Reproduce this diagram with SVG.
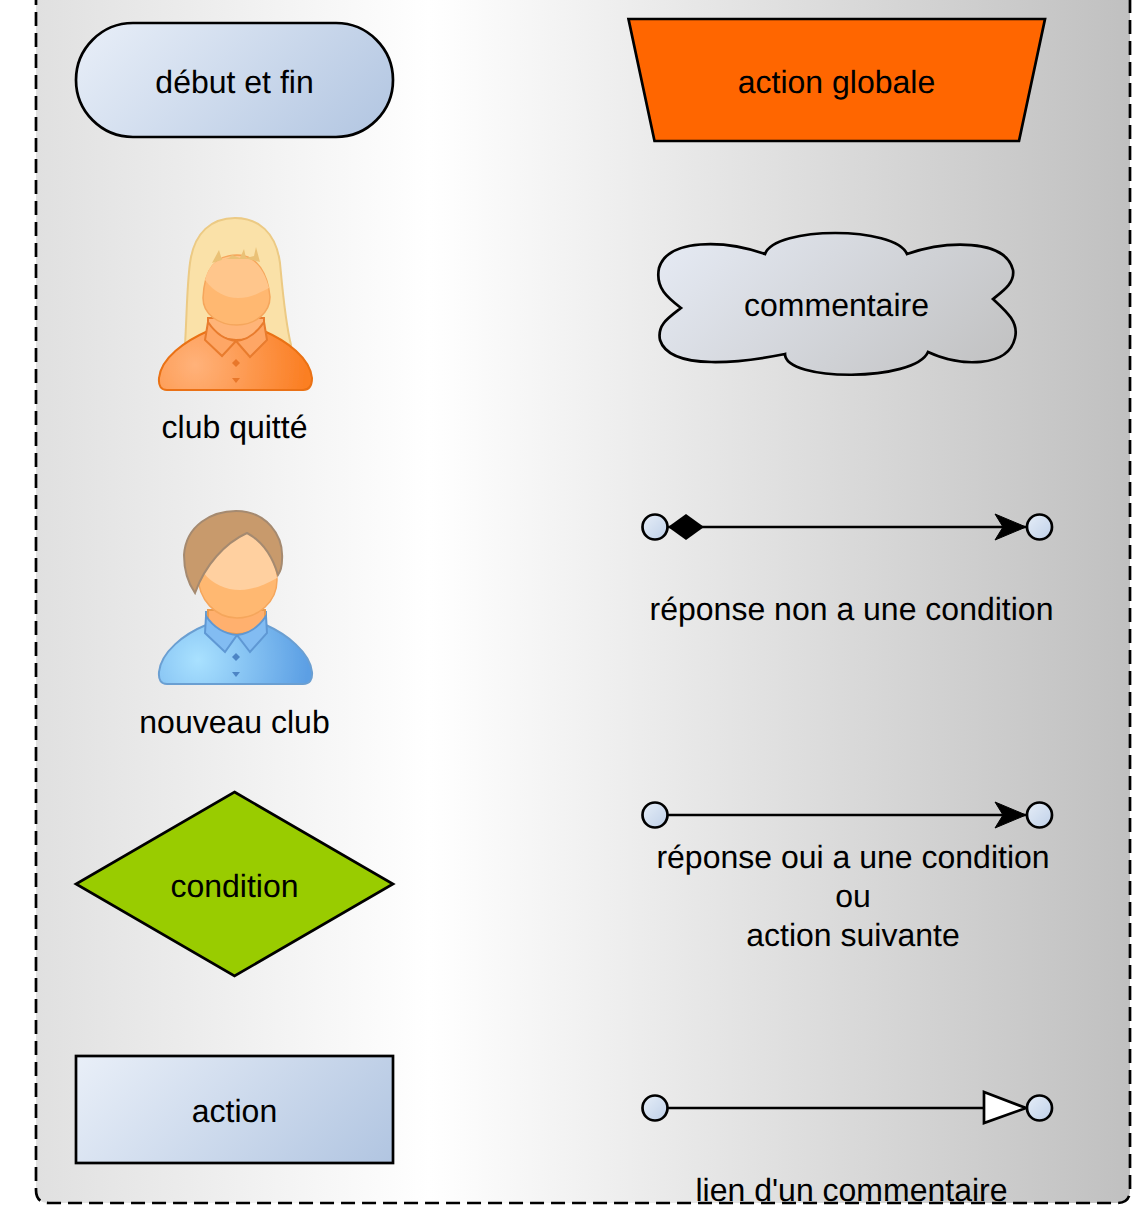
<svg xmlns="http://www.w3.org/2000/svg" width="1143" height="1210" viewBox="0 0 1143 1210">
<style>
text{font-family:"Liberation Sans",Arial,sans-serif;font-size:32px;fill:#000;text-anchor:middle;text-rendering:geometricPrecision}
.s{stroke:#000;stroke-width:2.700;stroke-linejoin:miter}
.c{fill:url(#dot);stroke:#000;stroke-width:2.700}
.l{fill:none;stroke:#000;stroke-width:2.700}
</style>
<defs>
<filter id="soft" x="-5%" y="-5%" width="110%" height="110%"><feGaussianBlur stdDeviation="0.6"/></filter>
<linearGradient id="bg" gradientUnits="userSpaceOnUse" x1="36" y1="0" x2="1130" y2="0"><stop offset="0" stop-color="#e0e0e0"/><stop offset=".36" stop-color="#fff"/><stop offset="1" stop-color="#c0c0c0"/></linearGradient>
<linearGradient id="blue1" gradientUnits="userSpaceOnUse" x1="76" y1="23" x2="291.500" y2="238.500"><stop offset="0" stop-color="#e9eff8"/><stop offset="1" stop-color="#b1c5e1"/></linearGradient>
<linearGradient id="blue2" gradientUnits="userSpaceOnUse" x1="76" y1="1056" x2="288" y2="1268"><stop offset="0" stop-color="#e9eff8"/><stop offset="1" stop-color="#b1c5e1"/></linearGradient>
<linearGradient id="dot" x1="0" y1="0" x2="1" y2="1"><stop offset="0" stop-color="#e6eef8"/><stop offset="1" stop-color="#bfd0e8"/></linearGradient>
<linearGradient id="cloud" gradientUnits="userSpaceOnUse" x1="658" y1="233" x2="907" y2="482"><stop offset="0" stop-color="#e6ebf5"/><stop offset="1" stop-color="#c0c0c0"/></linearGradient>
<radialGradient id="oshirt" gradientUnits="userSpaceOnUse" cx="195" cy="365" r="110"><stop offset="0" stop-color="#ffb27a"/><stop offset="1" stop-color="#fb7f24"/></radialGradient>
<radialGradient id="bshirt" gradientUnits="userSpaceOnUse" cx="198" cy="660" r="110"><stop offset="0" stop-color="#a9e1ff"/><stop offset="1" stop-color="#5c9fe4"/></radialGradient>
<marker id="arrow" markerUnits="userSpaceOnUse" markerWidth="34" markerHeight="30" refX="32" refY="15" orient="auto"><path d="M1 2 L32 15 L1 28 L9 15Z" fill="#000" stroke="#000" stroke-width="1"/></marker>
</defs>
<path id="panel" d="M36 -30V1190Q36 1203 49 1203H1117Q1130 1203 1130 1190V-30Z" fill="url(#bg)" stroke="#000" stroke-width="2.700" stroke-dasharray="14 7"/>
<g id="connectors">
<path class="l" d="M668 527H1026" marker-end="url(#arrow)"/>
<path d="M668 527L686 514L704 527L686 540Z" fill="#000"/>
<circle class="c" cx="655" cy="527" r="12.500"/><circle class="c" cx="1039.500" cy="527" r="12.500"/>
<path class="l" d="M668 815H1026" marker-end="url(#arrow)"/>
<circle class="c" cx="655" cy="815" r="12.500"/><circle class="c" cx="1039.500" cy="815" r="12.500"/>
<path class="l" d="M668 1108H984"/>
<path class="s" d="M984 1092L1026 1108L984 1123Z" fill="#fff"/>
<circle class="c" cx="655" cy="1108" r="12.500"/><circle class="c" cx="1039.500" cy="1108" r="12.500"/>
</g>
<g id="start"><rect class="s" x="76" y="23" width="317" height="114" rx="57" fill="url(#blue1)"/><text x="234.500" y="93">début et fin</text></g>
<g id="global"><path class="s" d="M628.500 19H1045L1019 141H654.500Z" fill="#f60"/><text x="836.500" y="93">action globale</text></g>
<g id="woman" filter="url(#soft)">
<path d="M185 345C187 310 187 285 190 263C194 232 212 218 235 218C258 218 276 232 280 263C283 295 285 320 291 345L280 365H195Z" fill="#fae1a8" stroke="#ecca84" stroke-width="2"/>
<path d="M159 378C161 358 185 341 208 331V322H264V331C287 341 310 358 312 378Q312 390 303 390H167Q158 390 159 378Z" fill="url(#oshirt)" stroke="#ea7112" stroke-width="2"/>
<path d="M208 318H264V330C255 338 245 340 236 340C226 340 216 336 208 328Z" fill="#ffb478" stroke="#e87b2d" stroke-width="2"/>
<path d="M208 322C216 334 226 340 236 341L222 356L205 340Z" fill="#fea665" stroke="#e87b2d" stroke-width="2"/>
<path d="M264 322C256 334 246 340 236 341L250 357L267 340Z" fill="#fea665" stroke="#e87b2d" stroke-width="2"/>
<path d="M203 298C204 275 212 255 237 255C258 255 268 275 270 297C270 312 256 325 237 325C218 325 203 314 203 298Z" fill="#ffb871" stroke="#f5a65c" stroke-width="1.500"/>
<path d="M205 280C208 268 215 256 237 256C256 256 265 272 269 288C258 294 248 298 238 298C226 298 214 292 205 280Z" fill="#ffc68c"/>
<path d="M212 263L219 250L222 260L229 258L232 255L240 258L244 249L246 258L254 256L256 247L260 262L248 259H225Z" fill="#eac176"/>
<path d="M236 359L240 363L236 367L232 363Z" fill="#e8772b"/><path d="M232 378H240L236 383Z" fill="#e8772b"/>
</g>
<text x="234.500" y="438">club quitté</text>
<g id="man" filter="url(#soft)">
<path d="M159 672C161 652 184 634 206 625V612H266V625C286 634 310 652 312 672Q313 684 303 684H167Q158 684 159 672Z" fill="url(#bshirt)" stroke="#6b9fd2" stroke-width="2"/>
<path d="M208 610H265V624C255 632 245 634 236 634C226 634 216 630 208 622Z" fill="#ffb06e" stroke="#e99a4f" stroke-width="2"/>
<path d="M206 616C214 628 226 634 237 635L225 652L205 633Z" fill="#82bcf2" stroke="#5f98d4" stroke-width="2"/>
<path d="M266 616C258 628 248 634 237 635L250 652L267 633Z" fill="#82bcf2" stroke="#5f98d4" stroke-width="2"/>
<path d="M198 575C198 552 218 533 240 533C262 533 277 556 277 580C277 602 258 618 237 618C216 618 198 600 198 575Z" fill="#ffb871" stroke="#f5a65c" stroke-width="1.500"/>
<path d="M203 572C212 555 228 537 247 533C263 542 274 558 277 578C265 585 252 590 240 590C226 590 212 584 203 572Z" fill="#ffd0a0"/>
<path d="M195 593C188 583 184 570 184 555C186 525 212 511 236 511C266 511 284 535 282 560C282 566 280 572 278 575C272 555 262 541 247 533C225 543 205 565 195 593Z" fill="#c89a6c" stroke="#a58a70" stroke-width="2"/>
<path d="M236 653L240 657L236 661L232 657Z" fill="#4d85c5"/><path d="M232 672H240L236 677Z" fill="#4d85c5"/>
</g>
<text x="234.500" y="733">nouveau club</text>
<g id="condition"><path class="s" d="M234.500 792L393 884L234.500 976L76 884Z" fill="#9c0"/><text x="234.500" y="897">condition</text></g>
<g id="action"><rect class="s" x="76" y="1056" width="317" height="107" fill="url(#blue2)"/><text x="234.500" y="1122">action</text></g>
<g id="cloud1"><path class="s" d="M765 254C775 226 895 226 907 254C945 241 1005 238 1013 270C1015 283 1003 291 993 299C1006 311 1019 322 1015 338C1008 368 960 367 928 352C915 382 785 382 785 354C745 362 670 372 660 340C657 325 668 318 681 308C668 298 655 288 659 268C668 238 725 240 765 254Z" fill="url(#cloud)"/><text x="836.500" y="316">commentaire</text></g>
<text x="851.500" y="620">réponse non a une condition</text>
<text x="853" y="868">réponse oui a une condition</text>
<text x="853" y="907">ou</text>
<text x="853" y="946">action suivante</text>
<text x="851.500" y="1201">lien d'un commentaire</text>
</svg>
